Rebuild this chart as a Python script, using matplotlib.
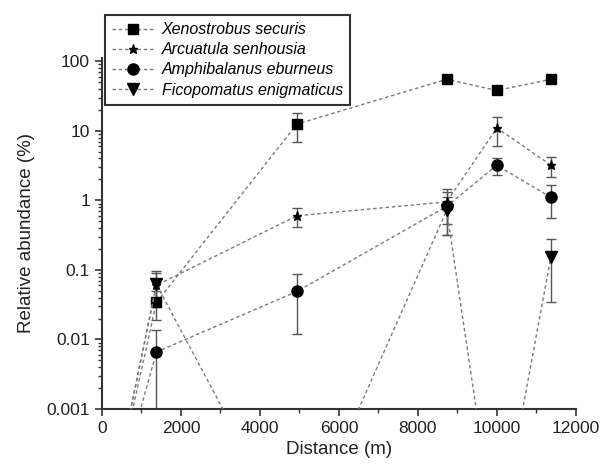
import matplotlib
matplotlib.use("Agg")
import matplotlib.pyplot as plt
import numpy as np

plt.rcParams['font.family'] = ['Liberation Sans', 'DejaVu Sans']

# ---- data (zero abundance drawn at a floor level below the axis) ----
distance = [0, 1380, 4940, 8730, 10000, 11370]
ZERO = 1e-5

species = ["Xenostrobus securis", "Arcuatula senhousia",
           "Amphibalanus eburneus", "Ficopomatus enigmaticus"]

xeno = [ZERO, 0.034, 12.5, 55, 38, 55]
xeno_err = [0, 0.015, 5.5, 5, 4, 4]

arcu = [ZERO, 0.06, 0.6, 0.95, 11, 3.2]
arcu_err = [0, 0.03, 0.18, 0.5, 5, 1.0]

amph = [ZERO, 0.0066, 0.049, 0.82, 3.2, 1.1]
amph_err = [0, 0.007, 0.037, 0.5, 0.9, 0.55]

fico = [ZERO, 0.062, ZERO, 0.72, ZERO, 0.155]
fico_err = [0, 0.033, 0, 0.4, 0, 0.12]

yticks = [0.001, 0.01, 0.1, 1, 10, 100]
ytick_labels = ["0.001", "0.01", "0.1", "1", "10", "100"]
xticks = [0, 2000, 4000, 6000, 8000, 10000, 12000]

# ---- figure ----
fig = plt.figure(figsize=(6.03, 4.72), dpi=100)
ax = fig.add_axes([0.169, 0.1335, 0.786, 0.744])

series = [(xeno, xeno_err, 's', 7.5),
          (arcu, arcu_err, '*', 6.5),
          (amph, amph_err, 'o', 8),
          (fico, fico_err, 'v', 8)]

line_color = '#7a7a7a'
handles = []
for (vals, errs, mk, ms), name in zip(series, species):
    ax.errorbar(distance, vals, yerr=errs, fmt='none', ecolor='#555555',
                elinewidth=1.0, capsize=3.5, capthick=1.0, zorder=2)
    h, = ax.plot(distance, vals, linestyle=(0, (2.5, 2)), color=line_color,
                 linewidth=1.0, marker=mk, markersize=ms,
                 markerfacecolor='black', markeredgecolor='black',
                 label=name, zorder=3)
    handles.append(h)

ax.set_yscale('log', nonpositive='clip')
ax.set_ylim(0.001, 112)
ax.set_xlim(0, 12000)

ax.set_yticks(yticks)
ax.set_yticklabels(ytick_labels)
ax.set_xticks(xticks)
ax.xaxis.set_minor_locator(matplotlib.ticker.MultipleLocator(1000))
ax.yaxis.set_minor_locator(matplotlib.ticker.LogLocator(base=10, subs=np.arange(2, 10)))
ax.yaxis.set_minor_formatter(matplotlib.ticker.NullFormatter())

for s in ['top', 'right']:
    ax.spines[s].set_visible(False)
for s in ['left', 'bottom']:
    ax.spines[s].set_linewidth(1.5)
    ax.spines[s].set_color('#333333')

ax.tick_params(axis='both', which='major', direction='out', length=5,
               width=1.2, color='#333333', labelsize=12.5, labelcolor='#222222')
ax.tick_params(axis='both', which='minor', direction='out', length=3,
               width=1.0, color='#333333')

ax.set_xlabel("Distance (m)", fontsize=13.5, color='#222222', labelpad=4)
ax.set_ylabel("Relative abundance (%)", fontsize=13.5, color='#222222', labelpad=8)

leg = fig.legend(handles=handles, loc='upper left',
                 bbox_to_anchor=(105 / 603, 1 - 15 / 472),
                 bbox_transform=fig.transFigure, borderaxespad=0,
                 fancybox=False, framealpha=1, edgecolor='#333333',
                 prop={'style': 'italic', 'size': 11.5},
                 labelspacing=0.32, handlelength=2.6, handletextpad=0.5,
                 borderpad=0.45)
leg.get_frame().set_linewidth(1.5)

fig.savefig("out.png", dpi=100)
